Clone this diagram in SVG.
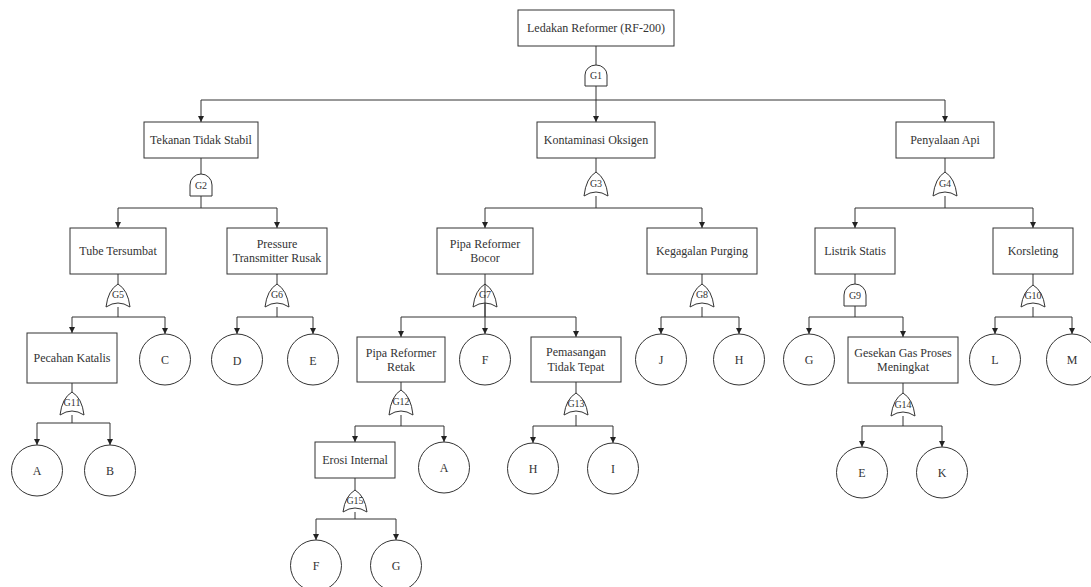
<svg xmlns="http://www.w3.org/2000/svg" width="1091" height="587" viewBox="0 0 1091 587">
<style>
.box{fill:#fff;stroke:#333;stroke-width:1}
.ev{fill:#fff;stroke:#333;stroke-width:1}
.gate{fill:#fff;stroke:#333;stroke-width:1}
.t{font-family:"Liberation Serif","Times New Roman",serif;font-size:12px;fill:#333;text-anchor:middle}
.g{font-family:"Liberation Serif","Times New Roman",serif;font-size:10px;fill:#333;text-anchor:middle}
.ln{fill:none;stroke:#333;stroke-width:1}
.ar{fill:none;stroke:#333;stroke-width:1;marker-end:url(#arr)}
</style>
<defs>
<marker id="arr" markerWidth="6" markerHeight="6" refX="6" refY="3" orient="auto" markerUnits="userSpaceOnUse">
<path d="M0,0 L6,3 L0,6 Z" fill="#222"/>
</marker>
</defs>
<rect width="1091" height="587" fill="#fff"/>

<g id="connectors">
<!-- level 0 -->
<path class="ln" d="M596,46 V65 M596,86 V100 M201,100 H945"/>
<path class="ar" d="M201,100 V122"/>
<path class="ar" d="M596,100 V122"/>
<path class="ar" d="M945,100 V122"/>
<!-- level 1 -->
<path class="ln" d="M201,158 V174 M201,196 V208 M118,208 H277"/>
<path class="ln" d="M596,158 V172 M596,196 V208 M485,208 H702"/>
<path class="ln" d="M945,158 V172 M945,196 V208 M855,208 H1033"/>
<path class="ar" d="M118,208 V228"/><path class="ar" d="M277,208 V228"/>
<path class="ar" d="M485,208 V228"/><path class="ar" d="M702,208 V228"/>
<path class="ar" d="M855,208 V228"/><path class="ar" d="M1033,208 V228"/>
<!-- level 2 -->
<path class="ln" d="M118,274 V284 M118,307 V317 M72,317 H165"/>
<path class="ln" d="M277,274 V284 M277,307 V317 M237,317 H313"/>
<path class="ln" d="M485,274 V284 M401,317 H576"/>
<path class="ln" d="M702,274 V284 M702,307 V317 M661,317 H739"/>
<path class="ln" d="M855,274 V284 M855,306 V317 M809,317 H903"/>
<path class="ln" d="M1033,274 V285 M1033,307 V317 M995,317 H1072"/>
<path class="ar" d="M72,317 V333"/><path class="ar" d="M165,317 V334"/>
<path class="ar" d="M237,317 V334"/><path class="ar" d="M313,317 V334"/>
<path class="ar" d="M401,317 V337"/><path class="ar" d="M485,284 V334"/><path class="ar" d="M576,317 V337"/>
<path class="ar" d="M661,317 V334"/><path class="ar" d="M739,317 V334"/>
<path class="ar" d="M809,317 V334"/><path class="ar" d="M903,317 V337"/>
<path class="ar" d="M995,317 V334"/><path class="ar" d="M1072,317 V334"/>
<!-- level 3 -->
<path class="ln" d="M72,383 V392 M72,415 V423 M37,423 H110"/>
<path class="ar" d="M37,423 V445"/><path class="ar" d="M110,423 V445"/>
<path class="ln" d="M401,382 V390 M401,415 V426 M355,426 H444"/>
<path class="ar" d="M355,426 V442"/><path class="ar" d="M444,426 V442"/>
<path class="ln" d="M576,382 V393 M576,415 V426 M533,426 H613"/>
<path class="ar" d="M533,426 V443"/><path class="ar" d="M613,426 V443"/>
<path class="ln" d="M903,383 V393 M903,416 V426 M862,426 H942"/>
<path class="ar" d="M862,426 V447"/><path class="ar" d="M942,426 V447"/>
<path class="ln" d="M355,478 V490 M355,512 V519 M316,519 H396"/>
<path class="ar" d="M316,519 V540"/><path class="ar" d="M396,519 V540"/>
</g>

<!-- gates -->
<g id="G1"><path class="gate" d="M585,86 V75 A11,10 0 0 1 607,75 V86 Z"/><text class="g" x="596" y="79">G1</text></g>
<g id="G2"><path class="gate" d="M190,196 V185 A11,11 0 0 1 212,185 V196 Z"/><text class="g" x="201" y="189">G2</text></g>
<g id="G3"><path class="gate" d="M596,172 Q606,178 608,196 Q596,188 584,196 Q586,178 596,172 Z"/><text class="g" x="596" y="187">G3</text></g>
<g id="G4"><path class="gate" d="M945,172 Q955,178 957,196 Q945,188 933,196 Q935,178 945,172 Z"/><text class="g" x="945" y="187">G4</text></g>
<g id="G5"><path class="gate" d="M118,284 Q128,290 130,307 Q118,299 106,307 Q108,290 118,284 Z"/><text class="g" x="118" y="298">G5</text></g>
<g id="G6"><path class="gate" d="M277,284 Q287,290 289,307 Q277,299 265,307 Q267,290 277,284 Z"/><text class="g" x="277" y="298">G6</text></g>
<g id="G7"><path class="gate" d="M485,284 Q495,290 497,307 Q485,299 473,307 Q475,290 485,284 Z"/><path class="ln" d="M485,284 V317"/><text class="g" x="485" y="298">G7</text></g>
<g id="G8"><path class="gate" d="M702,284 Q712,290 714,307 Q702,299 690,307 Q692,290 702,284 Z"/><text class="g" x="702" y="298">G8</text></g>
<g id="G9"><path class="gate" d="M844,306 V295 A11,11 0 0 1 866,295 V306 Z"/><text class="g" x="855" y="299">G9</text></g>
<g id="G10"><path class="gate" d="M1033,285 Q1043,291 1045,307 Q1033,299 1021,307 Q1023,291 1033,285 Z"/><text class="g" x="1033" y="299">G10</text></g>
<g id="G11"><path class="gate" d="M72,392 Q82,398 84,415 Q72,407 60,415 Q62,398 72,392 Z"/><text class="g" x="72" y="406">G11</text></g>
<g id="G12"><path class="gate" d="M401,390 Q411,396 413,415 Q401,407 389,415 Q391,396 401,390 Z"/><text class="g" x="401" y="405">G12</text></g>
<g id="G13"><path class="gate" d="M576,393 Q586,399 588,415 Q576,407 564,415 Q566,399 576,393 Z"/><text class="g" x="576" y="407">G13</text></g>
<g id="G14"><path class="gate" d="M903,393 Q913,399 915,416 Q903,408 891,416 Q893,399 903,393 Z"/><text class="g" x="903" y="408">G14</text></g>
<g id="G15"><path class="gate" d="M355,490 Q365,496 367,512 Q355,504 343,512 Q345,496 355,490 Z"/><text class="g" x="355" y="504">G15</text></g>

<!-- nodes -->
<g id="top"><rect class="box" x="518" y="10" width="156" height="36"/><text class="t" x="596" y="32">Ledakan Reformer (RF-200)</text></g>
<g id="tekanan"><rect class="box" x="144" y="122" width="114" height="36"/><text class="t" x="201" y="144">Tekanan Tidak Stabil</text></g>
<g id="kontaminasi"><rect class="box" x="537" y="122" width="118" height="36"/><text class="t" x="596" y="144">Kontaminasi Oksigen</text></g>
<g id="penyalaan"><rect class="box" x="896" y="122" width="98" height="36"/><text class="t" x="945" y="144">Penyalaan Api</text></g>

<g id="tube"><rect class="box" x="70" y="228" width="96" height="46"/><text class="t" x="118" y="255">Tube Tersumbat</text></g>
<g id="pressure"><rect class="box" x="227" y="228" width="100" height="46"/><text class="t" x="277" y="248">Pressure</text><text class="t" x="277" y="262">Transmitter Rusak</text></g>
<g id="bocor"><rect class="box" x="437" y="228" width="96" height="46"/><text class="t" x="485" y="248">Pipa Reformer</text><text class="t" x="485" y="262">Bocor</text></g>
<g id="purging"><rect class="box" x="647" y="228" width="110" height="46"/><text class="t" x="702" y="255">Kegagalan Purging</text></g>
<g id="listrik"><rect class="box" x="815" y="228" width="80" height="46"/><text class="t" x="855" y="255">Listrik Statis</text></g>
<g id="korsleting"><rect class="box" x="993" y="228" width="80" height="46"/><text class="t" x="1033" y="255">Korsleting</text></g>

<g id="pecahan"><rect class="box" x="27" y="333" width="90" height="50"/><text class="t" x="72" y="362">Pecahan Katalis</text></g>
<g id="C"><circle class="ev" cx="165" cy="359.5" r="25.5"/><text class="t" x="165" y="363.5">C</text></g>
<g id="D"><circle class="ev" cx="237" cy="359.5" r="25.5"/><text class="t" x="237" y="365">D</text></g>
<g id="E1"><circle class="ev" cx="313" cy="359.5" r="25.5"/><text class="t" x="313" y="365">E</text></g>
<g id="retak"><rect class="box" x="357" y="337" width="88" height="45"/><text class="t" x="401" y="357">Pipa Reformer</text><text class="t" x="401" y="371">Retak</text></g>
<g id="F1"><circle class="ev" cx="485" cy="359.5" r="25.5"/><text class="t" x="485" y="364">F</text></g>
<g id="pemasangan"><rect class="box" x="531" y="337" width="90" height="45"/><text class="t" x="576" y="356">Pemasangan</text><text class="t" x="576" y="371">Tidak Tepat</text></g>
<g id="J"><circle class="ev" cx="661" cy="359.5" r="25.5"/><text class="t" x="661" y="363.5">J</text></g>
<g id="H1"><circle class="ev" cx="739" cy="359.5" r="25.5"/><text class="t" x="739" y="363.5">H</text></g>
<g id="G"><circle class="ev" cx="809" cy="359.5" r="25.5"/><text class="t" x="809" y="363.5">G</text></g>
<g id="gesekan"><rect class="box" x="848" y="337" width="110" height="46"/><text class="t" x="903" y="357">Gesekan Gas Proses</text><text class="t" x="903" y="371">Meningkat</text></g>
<g id="L"><circle class="ev" cx="995" cy="359.5" r="25.5"/><text class="t" x="995" y="363.5">L</text></g>
<g id="M"><circle class="ev" cx="1072" cy="359.5" r="25.5"/><text class="t" x="1072" y="363.5">M</text></g>

<g id="A1"><circle class="ev" cx="37" cy="470.5" r="25.5"/><text class="t" x="37" y="474.5">A</text></g>
<g id="B"><circle class="ev" cx="110" cy="470.5" r="25.5"/><text class="t" x="110" y="474.5">B</text></g>
<g id="erosi"><rect class="box" x="315" y="442" width="80" height="36"/><text class="t" x="355" y="464">Erosi Internal</text></g>
<g id="A2"><circle class="ev" cx="444" cy="467.5" r="25.5"/><text class="t" x="444" y="471.5">A</text></g>
<g id="H2"><circle class="ev" cx="533" cy="468.5" r="25.5"/><text class="t" x="533" y="472.5">H</text></g>
<g id="I"><circle class="ev" cx="613" cy="468.5" r="25.5"/><text class="t" x="613" y="472.5">I</text></g>
<g id="E2"><circle class="ev" cx="862" cy="472.5" r="25.5"/><text class="t" x="862" y="476.5">E</text></g>
<g id="K"><circle class="ev" cx="942" cy="472.5" r="25.5"/><text class="t" x="942" y="476.5">K</text></g>
<g id="F2"><circle class="ev" cx="316" cy="565.5" r="25.5"/><text class="t" x="316" y="569.5">F</text></g>
<g id="G2n"><circle class="ev" cx="396" cy="565.5" r="25.5"/><text class="t" x="396" y="569.5">G</text></g>
</svg>
